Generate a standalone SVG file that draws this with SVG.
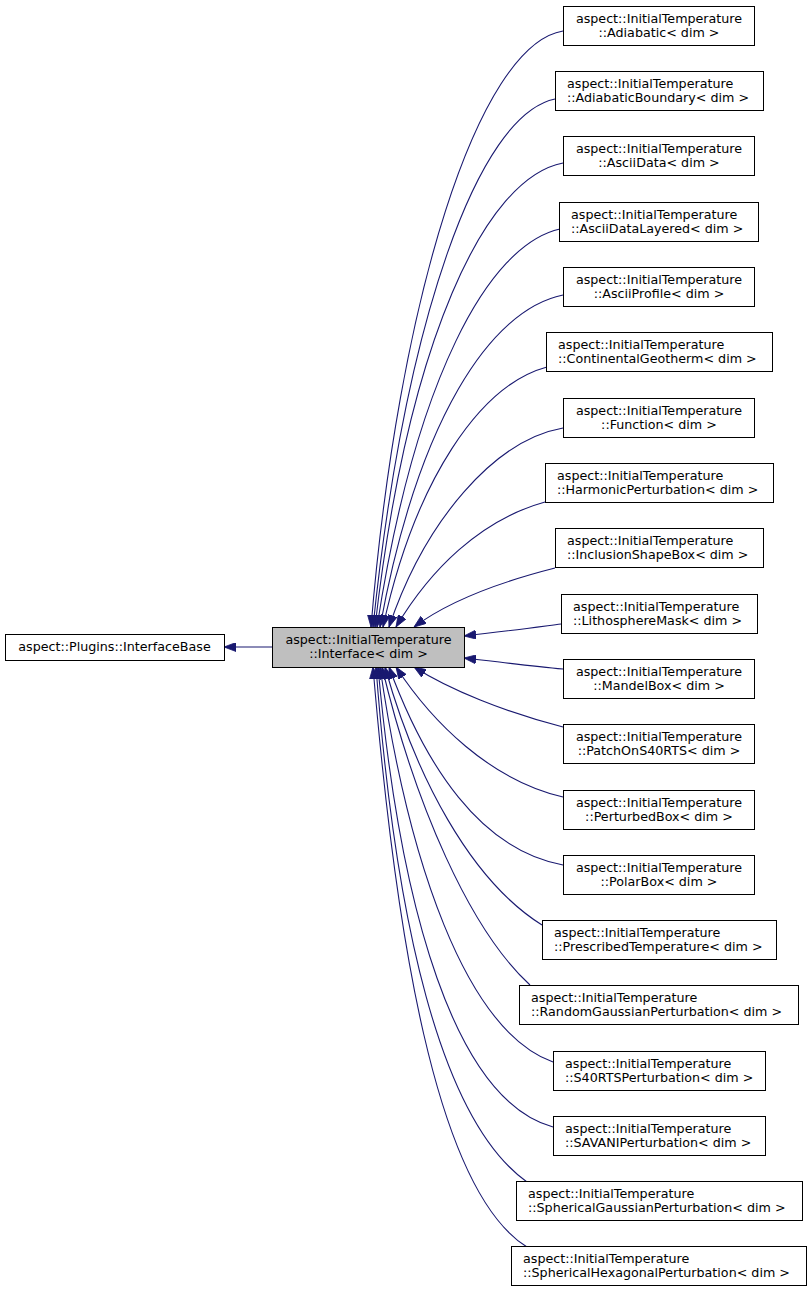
<svg xmlns="http://www.w3.org/2000/svg" width="812" height="1293" viewBox="0 0 812 1293">
<style>
.n rect{fill:#ffffff;stroke:#000000;stroke-width:1}
.cur rect{fill:#bfbfbf}
text{font-family:"DejaVu Sans","Liberation Sans",sans-serif;font-size:12.7px;fill:#000000}
.c{text-anchor:middle}
.e path{fill:none;stroke:#191970;stroke-width:1.1;marker-end:url(#ah)}
</style>
<defs>
<marker id="ah" markerUnits="userSpaceOnUse" viewBox="0 0 12 9" markerWidth="12" markerHeight="9" refX="12" refY="4.5" orient="auto">
<path d="M0,0 L12,4.5 L0,9 z" fill="#191970" stroke="#191970" stroke-width="0.8"/>
</marker>
</defs>
<rect width="812" height="1293" fill="#ffffff"/>
<g id="edges" class="e">
<path d="M272,647 L224,647"/>
<path d="M563,31 C478,45 398,300 371,627"/>
<path d="M555,99 C478,115 405,320 373,627"/>
<path d="M563,163 C485,178 408,340 375,627"/>
<path d="M560,229 C488,245 415,380 377,627"/>
<path d="M563,295 C490,310 418,420 380,627"/>
<path d="M547,367 C480,385 415,480 383,627"/>
<path d="M563,428 C495,440 425,520 389,627"/>
<path d="M545,502 C480,520 430,570 396,627"/>
<path d="M555,568 C500,582 450,600 414,627"/>
<path d="M561,624 C530,628 500,632 464,636"/>
<path d="M563,669 C530,666 500,662 464,658"/>
<path d="M563,727 C505,712 450,690 414,667"/>
<path d="M563,797 C490,780 432,722 396,667"/>
<path d="M563,865 C480,850 425,765 389,667"/>
<path d="M542,925 C470,880 415,775 385,667"/>
<path d="M530,985 C470,930 415,805 382,667"/>
<path d="M553,1062 C465,1030 408,860 380,667"/>
<path d="M553,1127 C455,1100 400,910 378,667"/>
<path d="M527,1182 C440,1120 395,920 376,667"/>
<path d="M527,1247 C435,1190 395,930 373,667"/>
</g>
<g id="InterfaceBase" class="n"><rect x="5.5" y="634.5" width="219" height="26"/><text class="c" x="114.5" y="651">aspect::Plugins::InterfaceBase</text></g>
<g id="Interface" class="n cur"><rect x="272.5" y="627.5" width="192" height="40"/><text class="c" x="368.5" y="643.5">aspect::InitialTemperature</text><text class="c" x="368.5" y="657.5">::Interface&lt; dim &gt;</text></g>
<g id="Adiabatic" class="n"><rect x="563.5" y="6.5" width="191" height="39"/><text class="c" x="659" y="23">aspect::InitialTemperature</text><text class="c" x="659" y="37">::Adiabatic&lt; dim &gt;</text></g>
<g id="AdiabaticBoundary" class="n"><rect x="555.5" y="71.5" width="208" height="39"/><text x="567" y="88">aspect::InitialTemperature</text><text x="567" y="102">::AdiabaticBoundary&lt; dim &gt;</text></g>
<g id="AsciiData" class="n"><rect x="563.5" y="136.5" width="191" height="39"/><text class="c" x="659" y="153">aspect::InitialTemperature</text><text class="c" x="659" y="167">::AsciiData&lt; dim &gt;</text></g>
<g id="AsciiDataLayered" class="n"><rect x="559.5" y="202.5" width="199" height="39"/><text x="571" y="219">aspect::InitialTemperature</text><text x="571" y="233">::AsciiDataLayered&lt; dim &gt;</text></g>
<g id="AsciiProfile" class="n"><rect x="563.5" y="267.5" width="191" height="39"/><text class="c" x="659" y="284">aspect::InitialTemperature</text><text class="c" x="659" y="298">::AsciiProfile&lt; dim &gt;</text></g>
<g id="ContinentalGeotherm" class="n"><rect x="546.5" y="332.5" width="226" height="39"/><text x="558" y="349">aspect::InitialTemperature</text><text x="558" y="363">::ContinentalGeotherm&lt; dim &gt;</text></g>
<g id="Function" class="n"><rect x="563.5" y="398.5" width="191" height="39"/><text class="c" x="659" y="415">aspect::InitialTemperature</text><text class="c" x="659" y="429">::Function&lt; dim &gt;</text></g>
<g id="HarmonicPerturbation" class="n"><rect x="545.5" y="463.5" width="228" height="39"/><text x="557" y="480">aspect::InitialTemperature</text><text x="557" y="494">::HarmonicPerturbation&lt; dim &gt;</text></g>
<g id="InclusionShapeBox" class="n"><rect x="555.5" y="528.5" width="208" height="39"/><text x="567" y="545">aspect::InitialTemperature</text><text x="567" y="559">::InclusionShapeBox&lt; dim &gt;</text></g>
<g id="LithosphereMask" class="n"><rect x="561.5" y="594.5" width="196" height="39"/><text x="573" y="611">aspect::InitialTemperature</text><text x="573" y="625">::LithosphereMask&lt; dim &gt;</text></g>
<g id="MandelBox" class="n"><rect x="563.5" y="659.5" width="191" height="39"/><text class="c" x="659" y="676">aspect::InitialTemperature</text><text class="c" x="659" y="690">::MandelBox&lt; dim &gt;</text></g>
<g id="PatchOnS40RTS" class="n"><rect x="563.5" y="724.5" width="191" height="39"/><text class="c" x="659" y="741">aspect::InitialTemperature</text><text class="c" x="659" y="755">::PatchOnS40RTS&lt; dim &gt;</text></g>
<g id="PerturbedBox" class="n"><rect x="563.5" y="790.5" width="191" height="39"/><text class="c" x="659" y="807">aspect::InitialTemperature</text><text class="c" x="659" y="821">::PerturbedBox&lt; dim &gt;</text></g>
<g id="PolarBox" class="n"><rect x="563.5" y="855.5" width="191" height="39"/><text class="c" x="659" y="872">aspect::InitialTemperature</text><text class="c" x="659" y="886">::PolarBox&lt; dim &gt;</text></g>
<g id="PrescribedTemperature" class="n"><rect x="542.5" y="920.5" width="234" height="39"/><text x="554" y="937">aspect::InitialTemperature</text><text x="554" y="951">::PrescribedTemperature&lt; dim &gt;</text></g>
<g id="RandomGaussianPerturbation" class="n"><rect x="519.5" y="985.5" width="279" height="39"/><text x="531" y="1002">aspect::InitialTemperature</text><text x="531" y="1016">::RandomGaussianPerturbation&lt; dim &gt;</text></g>
<g id="S40RTSPerturbation" class="n"><rect x="553.5" y="1051.5" width="212" height="39"/><text x="565" y="1068">aspect::InitialTemperature</text><text x="565" y="1082">::S40RTSPerturbation&lt; dim &gt;</text></g>
<g id="SAVANIPerturbation" class="n"><rect x="553.5" y="1116.5" width="212" height="39"/><text x="565" y="1133">aspect::InitialTemperature</text><text x="565" y="1147">::SAVANIPerturbation&lt; dim &gt;</text></g>
<g id="SphericalGaussianPerturbation" class="n"><rect x="516.5" y="1181.5" width="286" height="39"/><text x="528" y="1198">aspect::InitialTemperature</text><text x="528" y="1212">::SphericalGaussianPerturbation&lt; dim &gt;</text></g>
<g id="SphericalHexagonalPerturbation" class="n"><rect x="511.5" y="1246.5" width="295" height="39"/><text x="523" y="1263">aspect::InitialTemperature</text><text x="523" y="1277">::SphericalHexagonalPerturbation&lt; dim &gt;</text></g>
</svg>
